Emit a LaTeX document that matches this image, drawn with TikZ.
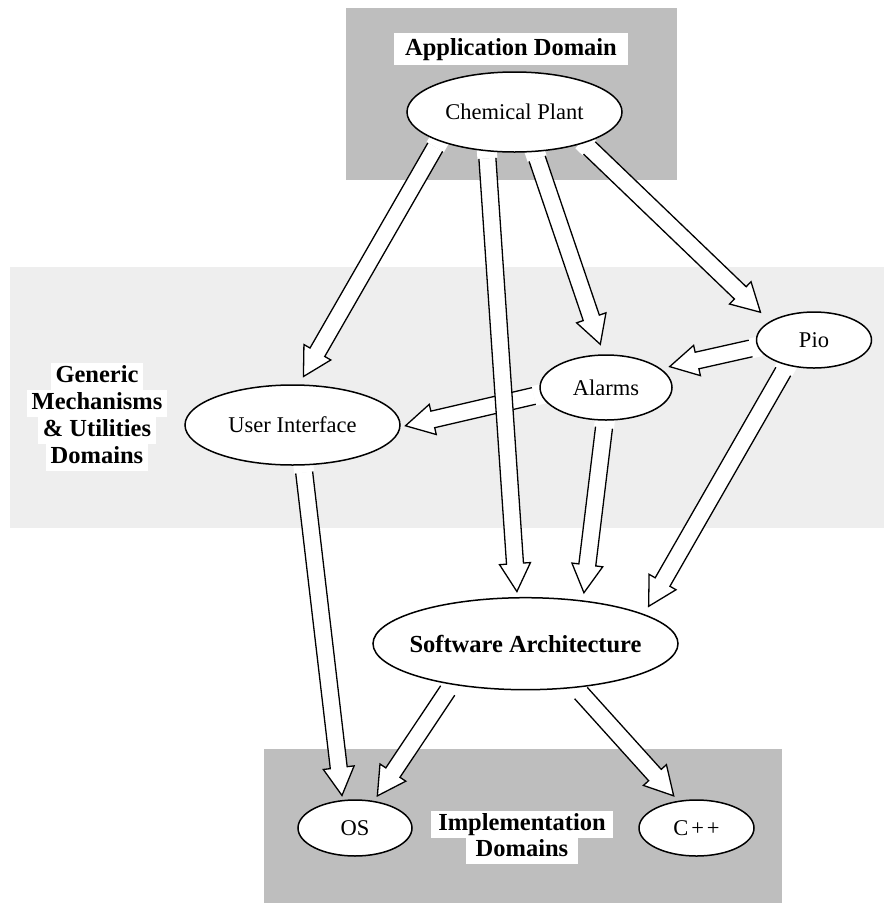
\documentclass[tikz,border=0pt]{standalone}
\usepackage{fontspec}
\setmainfont{Liberation Serif}
\usetikzlibrary{shapes.geometric,calc}

\pgfdeclarelayer{back}
\pgfdeclarelayer{flow}
\pgfsetlayers{back,flow,main}

\definecolor{domaingray}{gray}{0.745}
\definecolor{bandgray}{gray}{0.933}

\tikzset{
  entity/.style={ellipse, draw=black, fill=white, line width=1.5pt, inner sep=0pt,
    font=\fontsize{22.5}{26}\selectfont},
  boldentity/.style={entity, font=\fontsize{24.5}{27}\selectfont\bfseries},
  domainlabel/.style={fill=white, anchor=base, inner ysep=2pt, inner xsep=5pt,
    text height=17pt, text depth=6pt, font=\fontsize{24.5}{27}\selectfont\bfseries},
  fatbody/.style={fill=white, draw=black, line width=1.3pt, line join=miter, miter limit=10},
}

% Block arrow from a source border anchor to a target border anchor.
% #1: gap left before the target, #2: source anchor, #3: target anchor
\newcommand\fatarrow[3][6]{%
  \begin{pgfonlayer}{flow}
    \coordinate (fas) at (#2);
    \coordinate (fae) at (#3);
    \coordinate (fat) at ($(fae)!#1pt!(fas)$);
    \coordinate (faa) at ($(fas)!7pt!(fat)$);
    \coordinate (fab) at ($(fas)!-3pt!(fat)$);
    \coordinate (fah) at ($(fat)!28pt!(fas)$);
    \fill[white] ($(fab)!10pt!90:(fat)$) -- ($(faa)!10pt!90:(fat)$)
      -- ($(faa)!10pt!-90:(fat)$) -- ($(fab)!10pt!-90:(fat)$) -- cycle;
    \filldraw[fatbody] ($(faa)!8.5pt!90:(fat)$) -- ($(fah)!8.5pt!-90:(fas)$)
      -- ($(fah)!15.5pt!-90:(fas)$) -- (fat) -- ($(fah)!15.5pt!90:(fas)$)
      -- ($(fah)!8.5pt!90:(fas)$) -- ($(faa)!8.5pt!-90:(fat)$);
  \end{pgfonlayer}%
}

\begin{document}
\begin{tikzpicture}[x=1pt, y=-1pt]
  \useasboundingbox (0,0) rectangle (884,903);

  % domain regions
  \begin{pgfonlayer}{back}
    \fill[domaingray] (346,8) rectangle (677,180);
    \fill[bandgray] (10,267) rectangle (884,528);
    \fill[domaingray] (264,749) rectangle (782,903);
  \end{pgfonlayer}

  % domain titles
  \node[domainlabel, inner xsep=11pt, text height=18pt, inner ysep=4pt] (appdom) at (511,55) {Application Domain};
  \node[domainlabel] (gen1) at (97,382) {Generic};
  \node[domainlabel] (gen2) at (97,409) {Mechanisms};
  \node[domainlabel] (gen3) at (97,436) {\& Utilities};
  \node[domainlabel] (gen4) at (97,463) {Domains};
  \node[domainlabel, inner xsep=7.5pt] (imp1) at (522,830) {Implementation};
  \node[domainlabel, inner xsep=10pt] (imp2) at (522,856) {Domains};

  % domains as entities
  \node[entity, minimum width=215pt, minimum height=80pt] (cp) at (514.5,112) {Chemical Plant};
  \node[entity, minimum width=215pt, minimum height=80pt] (ui) at (292.5,425) {User Interface};
  \node[entity, minimum width=132pt, minimum height=65pt] (al) at (606,387.5) {Alarms};
  \node[entity, minimum width=115pt, minimum height=56pt] (pio) at (814,340) {Pio};
  \node[boldentity, minimum width=305pt, minimum height=92pt, inner xsep=-20pt] (sa) at (525.5,643.7) {Software Architecture};
  \node[entity, minimum width=114pt, minimum height=56pt] (os) at (355,828) {OS};
  \node[entity, minimum width=115pt, minimum height=56pt] (cpp) at (696.5,828) {C\kern3pt+\kern3pt+};

  % bridges between domains
  \fatarrow[5]{al.186.7}{ui.-1}
  \fatarrow[9]{cp.201.7}{ui.81.75}
  \fatarrow[10.5]{cp.297.5}{al.94.6}
  \fatarrow[13]{cp.336.8}{pio.157.4}
  \fatarrow[9]{pio.187.2}{al.19.7}
  \fatarrow[7.7]{al.268.2}{sa.37.8}
  \fatarrow[9]{pio.223.5}{sa.14.1}
  \fatarrow[5.5]{cp.235.7}{sa.100.4}
  \fatarrow[4.5]{ui.285.5}{os.114}
  \fatarrow[6]{sa.209.8}{os.55.9}
  \fatarrow[6.6]{sa.319.3}{cpp.124.1}
\end{tikzpicture}
\end{document}
